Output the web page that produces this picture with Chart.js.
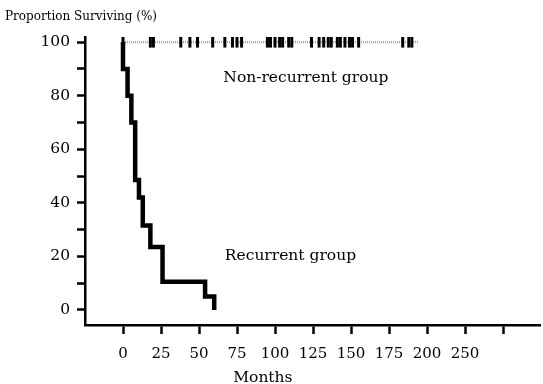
<!DOCTYPE html>
<html>
<head>
<meta charset="utf-8">
<script src="https://cdn.jsdelivr.net/npm/chart.js@4.4.1/dist/chart.umd.min.js"></script>
<style>
  html, body { margin: 0; padding: 0; background: #fff; overflow: hidden; }
  #wrap { width: 543px; height: 384px; position: relative; }
  canvas { display: block; }
</style>
</head>
<body>
<div id="wrap"><canvas id="km"></canvas></div>
<script>
// recurrent group: Kaplan-Meier steps (months, % surviving)
const recurMonths = [0, 0, 3, 5.5, 8, 10.5, 13, 18, 26, 54, 60];
const recurPct    = [100, 90, 80, 70, 48.5, 42, 31.5, 23.5, 10.5, 5, 0];

// non-recurrent group: stays at 100%, censored follow-up times
const plateauMonths = [0, 194];
const plateauPct    = [100, 100];
const censorMonths  = [0, 18, 20, 38, 44, 49, 59, 67, 72, 75, 78, 95, 97, 100, 103, 105,
                       109, 111, 124, 129, 132, 135, 137, 141, 143, 146, 149, 151, 155,
                       184, 188, 190];

// axis ticks as printed in the figure
const xTickVals   = [0, 25, 50, 75, 100, 125, 150, 175, 200, 225, 250];
const xTickLabels = ['0', '25', '50', '75', '100', '125', '150', '175', '200', '250', ''];
const yTickVals   = [0, 10, 20, 30, 40, 50, 60, 70, 80, 90, 100];
const yTickLabels = ['0', '', '20', '', '40', '', '60', '', '80', '', '100'];

// free text in the plot, placed in data units
const groupNames = ['Non-recurrent group', 'Recurrent group', 'Months'];
const namePlaces = [{x: 66, y: 86.5, align: 'left'}, {x: 67, y: 20, align: 'left'},
                    {x: 92, y: -25.3, align: 'center'}];

Chart.defaults.font.family = '"DejaVu Serif", serif';
Chart.defaults.color = '#000';

const groupText = {
  id: 'groupText',
  afterDraw(chart) {
    const ctx = chart.ctx;
    const xs = chart.scales.x, ys = chart.scales.y;
    ctx.save();
    ctx.font = '15.5px "DejaVu Serif"';
    ctx.fillStyle = '#000';
    ctx.textBaseline = 'middle';
    groupNames.forEach((t, i) => {
      const p = namePlaces[i];
      ctx.textAlign = p.align;
      ctx.fillText(t, xs.getPixelForValue(p.x), ys.getPixelForValue(p.y));
    });
    ctx.restore();
  }
};

new Chart(document.getElementById('km'), {
  type: 'scatter',
  data: {
    datasets: [
      {
        label: 'Recurrent group',
        data: recurMonths.map((m, i) => ({x: m, y: recurPct[i]})),
        showLine: true,
        stepped: 'before',
        borderColor: '#000',
        borderWidth: 4.5,
        pointRadius: 0
      },
      {
        label: 'censored',
        data: censorMonths.map(m => ({x: m, y: 100})),
        showLine: false,
        pointStyle: 'line',
        rotation: 90,
        radius: 5.5,
        borderWidth: 3,
        borderColor: '#000',
        backgroundColor: '#000'
      },
      {
        label: 'Non-recurrent group',
        data: plateauMonths.map((m, i) => ({x: m, y: plateauPct[i]})),
        showLine: true,
        borderColor: '#a8a8a8',
        borderWidth: 2.5,
        borderDash: [1, 1],
        pointRadius: 0
      }
    ]
  },
  options: {
    responsive: true,
    maintainAspectRatio: false,
    animation: false,
    layout: { autoPadding: false, padding: { left: 5, right: 3, top: 0, bottom: 0 } },
    plugins: {
      legend: { display: false },
      tooltip: { enabled: false },
      title: {
        display: true,
        text: 'Proportion Surviving (%)',
        align: 'start',
        color: '#000',
        font: { size: 12, weight: 'normal' },
        padding: { top: 10, bottom: 12.6 }
      }
    },
    scales: {
      x: {
        type: 'linear',
        min: -25,
        max: 274.3,
        afterBuildTicks: s => { s.ticks = xTickVals.map(v => ({value: v})); },
        afterFit: s => { s.height = 59; s.paddingLeft = 0; s.paddingRight = 0; },
        border: { color: '#000', width: 2.5 },
        grid: { drawOnChartArea: false, tickLength: 9, color: '#000', tickWidth: 2.5 },
        ticks: {
          padding: 11, maxRotation: 0, autoSkip: false,
          font: { size: 15 },
          callback: (v, i) => xTickLabels[i]
        }
      },
      y: {
        min: -5.6,
        max: 101.9,
        afterBuildTicks: s => { s.ticks = yTickVals.map(v => ({value: v})); },
        afterFit: s => { s.width = 80; s.paddingTop = 0; s.paddingBottom = 0; },
        border: { color: '#000', width: 2.5 },
        grid: { drawOnChartArea: false, tickLength: 8, color: '#000', tickWidth: 2.5 },
        ticks: {
          padding: 7, autoSkip: false,
          font: { size: 15.5 },
          callback: (v, i) => yTickLabels[i]
        }
      }
    }
  },
  plugins: [groupText]
});
</script>
</body>
</html>
